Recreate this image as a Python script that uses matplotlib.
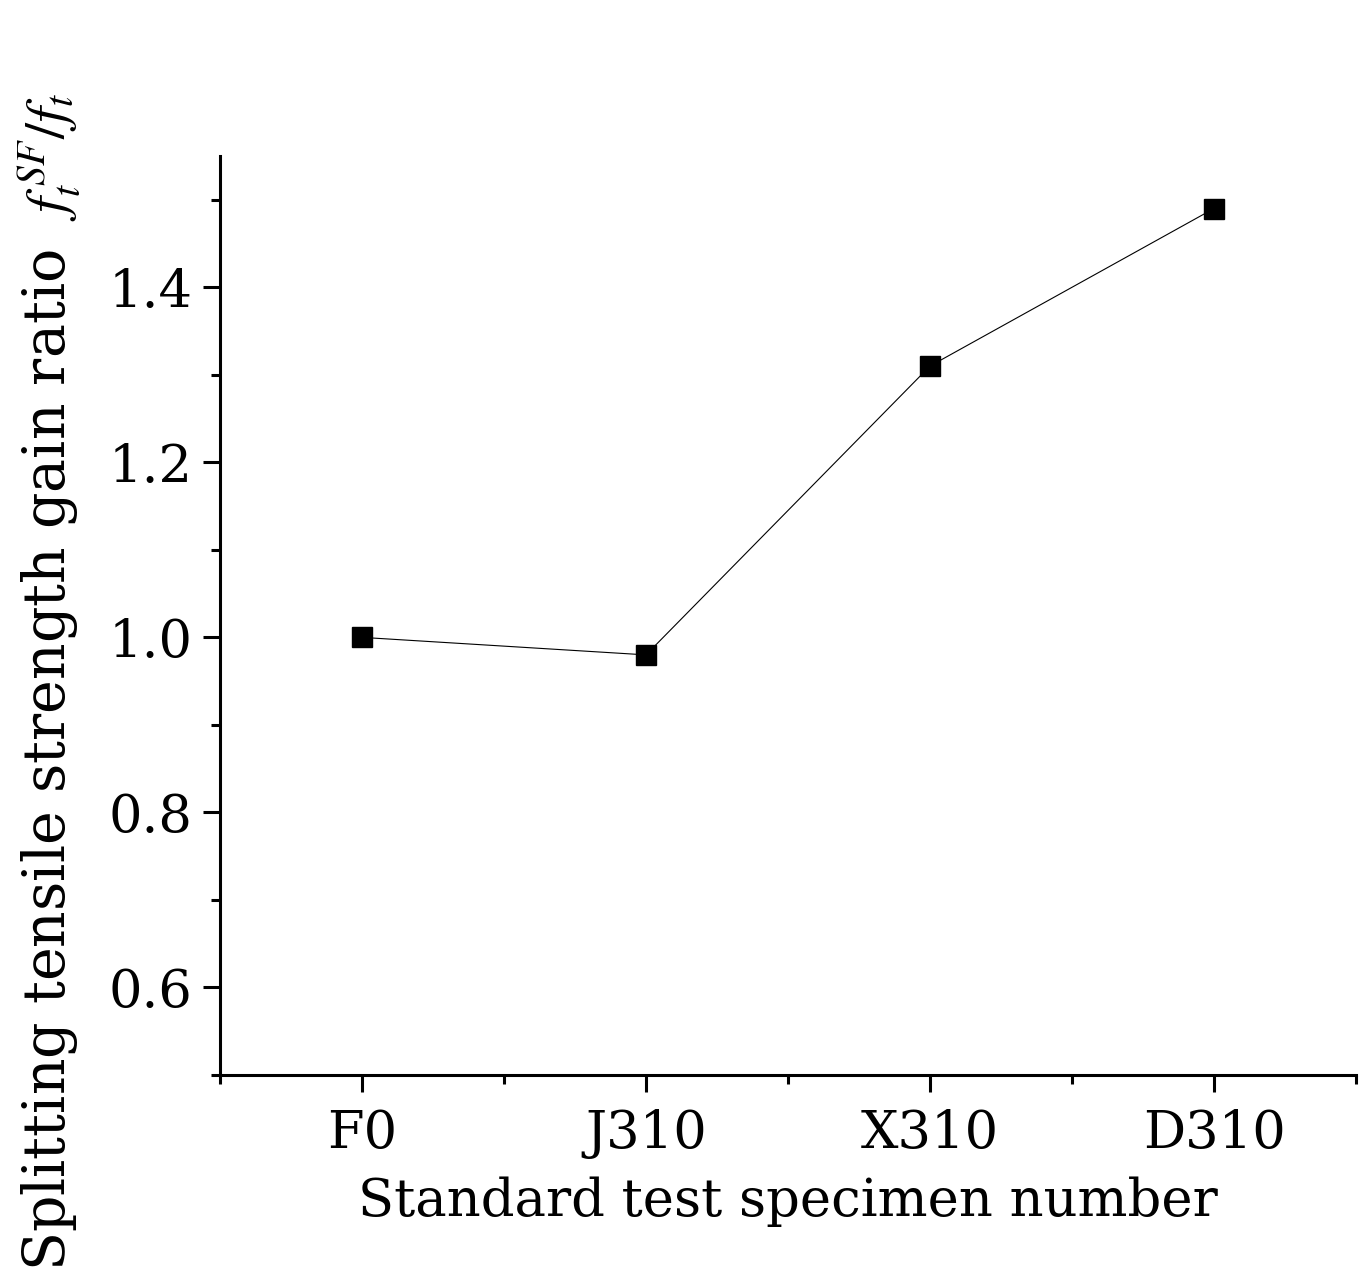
import matplotlib
matplotlib.use("Agg")
import matplotlib.pyplot as plt
from matplotlib.ticker import FixedLocator

categories = ["F0", "J310", "X310", "D310"]
gain_ratio = [1.00, 0.98, 1.31, 1.49]
y_ticks = [0.6, 0.8, 1.0, 1.2, 1.4]
y_tick_labels = ["0.6", "0.8", "1.0", "1.2", "1.4"]

plt.rcParams['font.family'] = ['DejaVu Serif']
plt.rcParams['mathtext.fontset'] = 'stix'

FS = 38

fig = plt.figure(figsize=(13.66, 12.76), dpi=100)
ax = fig.add_axes([220/1366, (1276-1075)/1276, (1356-220)/1366, (1075-156)/1276])

x = list(range(1, len(categories) + 1))
ax.plot(x, gain_ratio, color='black', lw=0.8, marker='s', markersize=14,
        markerfacecolor='black', markeredgecolor='black')

ax.set_xlim(0.5, 4.5)
ax.set_ylim(0.5, 1.55)
ax.xaxis.set_major_locator(FixedLocator(x))
ax.set_xticklabels(categories)
ax.xaxis.set_minor_locator(FixedLocator([0.5, 1.5, 2.5, 3.5, 4.5]))
ax.yaxis.set_major_locator(FixedLocator(y_ticks))
ax.yaxis.set_minor_locator(FixedLocator([0.5, 0.7, 0.9, 1.1, 1.3, 1.5]))
ax.set_yticklabels(y_tick_labels)

for s in ['top', 'right']:
    ax.spines[s].set_visible(False)
for s in ['left', 'bottom']:
    ax.spines[s].set_linewidth(2.2)

ax.tick_params(which='major', length=12, width=2.2, labelsize=FS, direction='out')
ax.tick_params(which='minor', length=6.5, width=2.2, direction='out')
ax.tick_params(axis='y', which='major', pad=8)
ax.tick_params(axis='x', which='major', pad=12)

ax.set_xlabel("Standard test specimen number", fontsize=FS, labelpad=12)

fig.text(0.036, 0.004, r"Splitting tensile strength gain ratio  $f_t^{\,SF}/f_t$",
         rotation=90, ha='center', va='bottom', fontsize=41)

fig.savefig("out.png", dpi=100)
